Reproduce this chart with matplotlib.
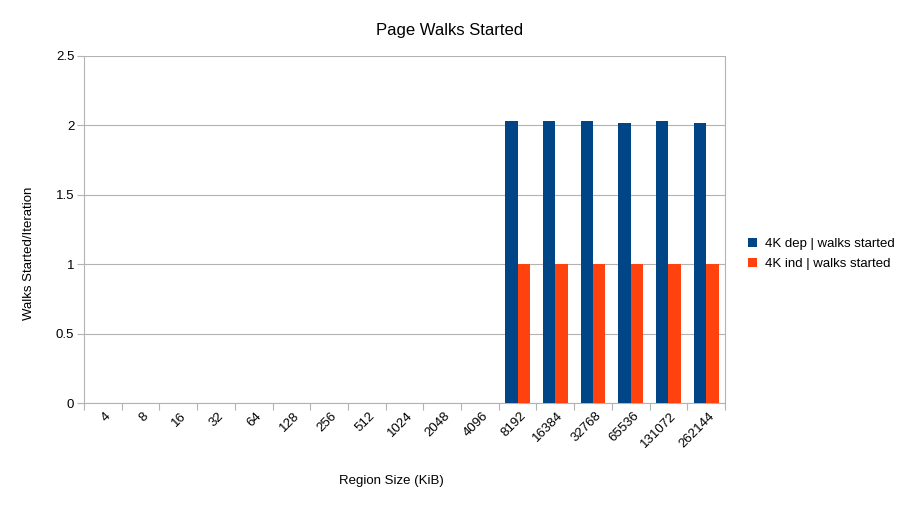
import matplotlib
matplotlib.use("Agg")
import matplotlib.pyplot as plt
import numpy as np

plt.rcParams["font.family"] = ["Liberation Sans", "DejaVu Sans"]

# Region sizes (KiB) and walks started per iteration
sizes = ["4", "8", "16", "32", "64", "128", "256", "512", "1024", "2048",
         "4096", "8192", "16384", "32768", "65536", "131072", "262144"]
dep_walks = [0, 0, 0, 0, 0, 0, 0, 0, 0, 0, 0, 2.03, 2.03, 2.03, 2.02, 2.03, 2.02]
ind_walks = [0, 0, 0, 0, 0, 0, 0, 0, 0, 0, 0, 1.0, 1.0, 1.0, 1.0, 1.0, 1.0]

blue = "#004586"
orange = "#ff420e"
grey = "#b3b3b3"

fig = plt.figure(figsize=(9, 5.07), dpi=100)
ax = fig.add_axes([84 / 900, 104 / 507, 641 / 900, 347 / 507])

x = np.arange(len(sizes))
w = 0.33
ax.bar(x - w / 2, dep_walks, w, color=blue, label="4K dep | walks started", zorder=3)
ax.bar(x + w / 2, ind_walks, w, color=orange, label="4K ind | walks started", zorder=3)

ax.set_xlim(-0.5, len(sizes) - 0.5)
ax.set_ylim(0, 2.5)
ax.set_yticks([0, 0.5, 1, 1.5, 2, 2.5])
ax.set_yticklabels(["0", "0.5", "1", "1.5", "2", "2.5"])
ax.yaxis.grid(True, color=grey, linewidth=0.8, zorder=0)

# category boundary ticks, labels at centres
ax.set_xticks(np.arange(len(sizes) + 1) - 0.5)
ax.set_xticklabels([])
ax.set_xticks(x + 0.05, minor=True)
ax.set_xticklabels(sizes, minor=True, rotation=45, ha="right", va="top",
                   rotation_mode="anchor", fontsize=9.5)
ax.tick_params(axis="x", which="minor", length=0, pad=5)
ax.tick_params(axis="x", which="major", length=5, color=grey, direction="out")
ax.tick_params(axis="y", length=5, color=grey, labelsize=9.5, pad=2)

for s in ax.spines.values():
    s.set_color(grey)
    s.set_linewidth(0.8)
ax.spines["top"].set_visible(False)

fig.text(0.5, 1 - 30 / 507, "Page Walks Started", fontsize=12,
         ha="center", va="center")
fig.text(391 / 900, 1 - 481 / 507, "Region Size (KiB)", fontsize=9.5,
         ha="center", va="center")
fig.text(29 / 900, 0.5, "Walks Started/Iteration", fontsize=9.5,
         rotation=90, ha="center", va="center")

fig.legend(loc="center left", bbox_to_anchor=(736 / 900, 253 / 507),
           frameon=False, fontsize=9.5, handlelength=0.7, handleheight=0.7,
           handletextpad=0.6, labelspacing=0.6)

fig.savefig("out.png", dpi=100)
